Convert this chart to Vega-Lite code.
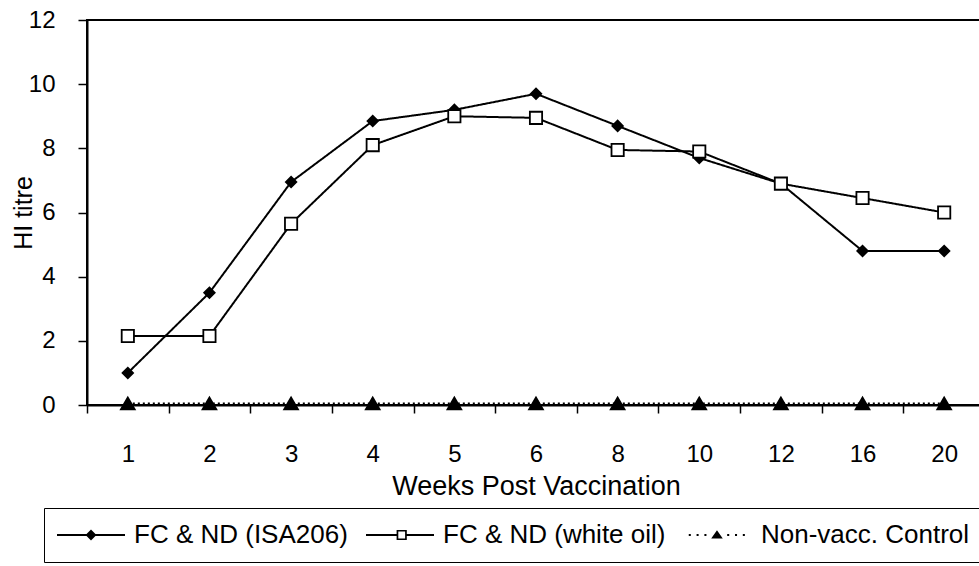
{
  "$schema": "https://vega.github.io/schema/vega-lite/v6.json",
  "width": 898,
  "height": 385,
  "padding": {"left": 11, "top": 8, "right": 0, "bottom": 0},
  "background": "white",
  "config": {
    "font": "Liberation Sans",
    "view": {"stroke": "black", "strokeWidth": 2},
    "axis": {"domainColor": "black", "tickColor": "black", "labelColor": "black", "titleColor": "black", "grid": false, "domainWidth": 2, "tickWidth": 1.5, "titleFontWeight": "normal"}
  },
  "data": {
    "values": [
      {"week": "1", "series": "FC & ND (ISA206)", "value": 1.0},
      {"week": "2", "series": "FC & ND (ISA206)", "value": 3.5},
      {"week": "3", "series": "FC & ND (ISA206)", "value": 6.95},
      {"week": "4", "series": "FC & ND (ISA206)", "value": 8.85},
      {"week": "5", "series": "FC & ND (ISA206)", "value": 9.2},
      {"week": "6", "series": "FC & ND (ISA206)", "value": 9.7},
      {"week": "8", "series": "FC & ND (ISA206)", "value": 8.7},
      {"week": "10", "series": "FC & ND (ISA206)", "value": 7.7},
      {"week": "12", "series": "FC & ND (ISA206)", "value": 6.9},
      {"week": "16", "series": "FC & ND (ISA206)", "value": 4.8},
      {"week": "20", "series": "FC & ND (ISA206)", "value": 4.8},
      {"week": "1", "series": "FC & ND (white oil)", "value": 2.15},
      {"week": "2", "series": "FC & ND (white oil)", "value": 2.15},
      {"week": "3", "series": "FC & ND (white oil)", "value": 5.65},
      {"week": "4", "series": "FC & ND (white oil)", "value": 8.1},
      {"week": "5", "series": "FC & ND (white oil)", "value": 9.0},
      {"week": "6", "series": "FC & ND (white oil)", "value": 8.95},
      {"week": "8", "series": "FC & ND (white oil)", "value": 7.95},
      {"week": "10", "series": "FC & ND (white oil)", "value": 7.9},
      {"week": "12", "series": "FC & ND (white oil)", "value": 6.9},
      {"week": "16", "series": "FC & ND (white oil)", "value": 6.45},
      {"week": "20", "series": "FC & ND (white oil)", "value": 6.0},
      {"week": "1", "series": "Non-vacc. Control", "value": 0.05},
      {"week": "2", "series": "Non-vacc. Control", "value": 0.05},
      {"week": "3", "series": "Non-vacc. Control", "value": 0.05},
      {"week": "4", "series": "Non-vacc. Control", "value": 0.05},
      {"week": "5", "series": "Non-vacc. Control", "value": 0.05},
      {"week": "6", "series": "Non-vacc. Control", "value": 0.05},
      {"week": "8", "series": "Non-vacc. Control", "value": 0.05},
      {"week": "10", "series": "Non-vacc. Control", "value": 0.05},
      {"week": "12", "series": "Non-vacc. Control", "value": 0.05},
      {"week": "16", "series": "Non-vacc. Control", "value": 0.05},
      {"week": "20", "series": "Non-vacc. Control", "value": 0.05}
    ]
  },
  "encoding": {
    "x": {
      "field": "week", "type": "ordinal",
      "scale": {"type": "band", "domain": ["1","2","3","4","5","6","8","10","12","16","20"], "paddingInner": 0, "paddingOuter": 0},
      "axis": {"title": "Weeks Post Vaccination", "labelAngle": 0, "labelFontSize": 24, "titleFontSize": 27, "tickBand": "extent", "tickSize": 8, "labelPadding": 29, "titlePadding": 7}
    },
    "y": {
      "field": "value", "type": "quantitative",
      "scale": {"domain": [0, 12], "nice": false},
      "axis": {"title": "HI titre", "titleColor": "black", "values": [0,2,4,6,8,10,12], "labelFontSize": 24, "titleFontSize": 25, "tickSize": 9, "labelPadding": 23, "titlePadding": -8}
    }
  },
  "layer": [
    {
      "mark": {"type": "line", "color": "black", "strokeWidth": 2},
      "encoding": {
        "detail": {"field": "series"},
        "strokeDash": {"field": "series", "scale": {"domain": ["FC & ND (ISA206)", "FC & ND (white oil)", "Non-vacc. Control"], "range": [[1,0],[1,0],[2,3]]}, "legend": null}
      }
    },
    {
      "mark": {"type": "point", "filled": true, "stroke": "black", "strokeWidth": 1.8, "opacity": 1},
      "encoding": {
        "shape": {"field": "series", "scale": {"domain": ["FC & ND (ISA206)", "FC & ND (white oil)", "Non-vacc. Control"], "range": ["diamond", "square", "triangle-up"]}, "legend": null},
        "fill": {"field": "series", "scale": {"domain": ["FC & ND (ISA206)", "FC & ND (white oil)", "Non-vacc. Control"], "range": ["black", "white", "black"]}, "legend": null},
        "size": {"field": "series", "scale": {"domain": ["FC & ND (ISA206)", "FC & ND (white oil)", "Non-vacc. Control"], "range": [110, 190, 25]}, "legend": null}
      }
    },
    {
      "mark": {"type": "point", "filled": true, "fill": "black", "opacity": 0},
      "encoding": {
        "shape": {
          "field": "series",
          "scale": {"domain": ["FC & ND (ISA206)", "FC & ND (white oil)", "Non-vacc. Control"],
            "range": [
              "M-1,-0.03L1,-0.03L1,0.03L-1,0.03ZM-0.16,0L0,-0.16L0.16,0L0,0.16Z",
              "M-1,-0.03L-0.1,-0.03L-0.1,0.03L-1,0.03ZM0.2,-0.03L1,-0.03L1,0.03L0.2,0.03ZM-0.1,-0.15L0.2,-0.15L0.2,0.15L-0.1,0.15ZM-0.05,-0.1L-0.05,0.1L0.15,0.1L0.15,-0.1Z",
              "M-0.86,-0.03L-0.8,-0.03L-0.8,0.03L-0.86,0.03ZM-0.63,-0.03L-0.57,-0.03L-0.57,0.03L-0.63,0.03ZM-0.4,-0.03L-0.34,-0.03L-0.34,0.03L-0.4,0.03ZM0.27,-0.03L0.33,-0.03L0.33,0.03L0.27,0.03ZM0.5,-0.03L0.56,-0.03L0.56,0.03L0.5,0.03ZM0.73,-0.03L0.79,-0.03L0.79,0.03L0.73,0.03ZM-0.2,0.1L-0.03,-0.14L0.14,0.1Z"
            ]},
          "legend": {
            "title": null, "orient": "none", "legendX": -43, "legendY": 488, "direction": "horizontal",
            "symbolSize": 4624, "symbolOpacity": 1, "symbolFillColor": "black",
            "clipHeight": 30,
            "labelFontSize": 26, "labelColor": "black", "labelLimit": 400, "labelOffset": 8, "columnPadding": 17,
            "strokeColor": "black", "padding": 12,
            "encode": {
              "symbols": {"update": {"opacity": {"value": 1}, "fillOpacity": {"value": 1}, "fill": {"value": "black"}}},
              "legend": {"update": {"strokeWidth": {"value": 2}}}
            }
          }
        }
      }
    }
  ],
  "resolve": {"scale": {"shape": "independent"}, "legend": {"shape": "independent"}}
}
